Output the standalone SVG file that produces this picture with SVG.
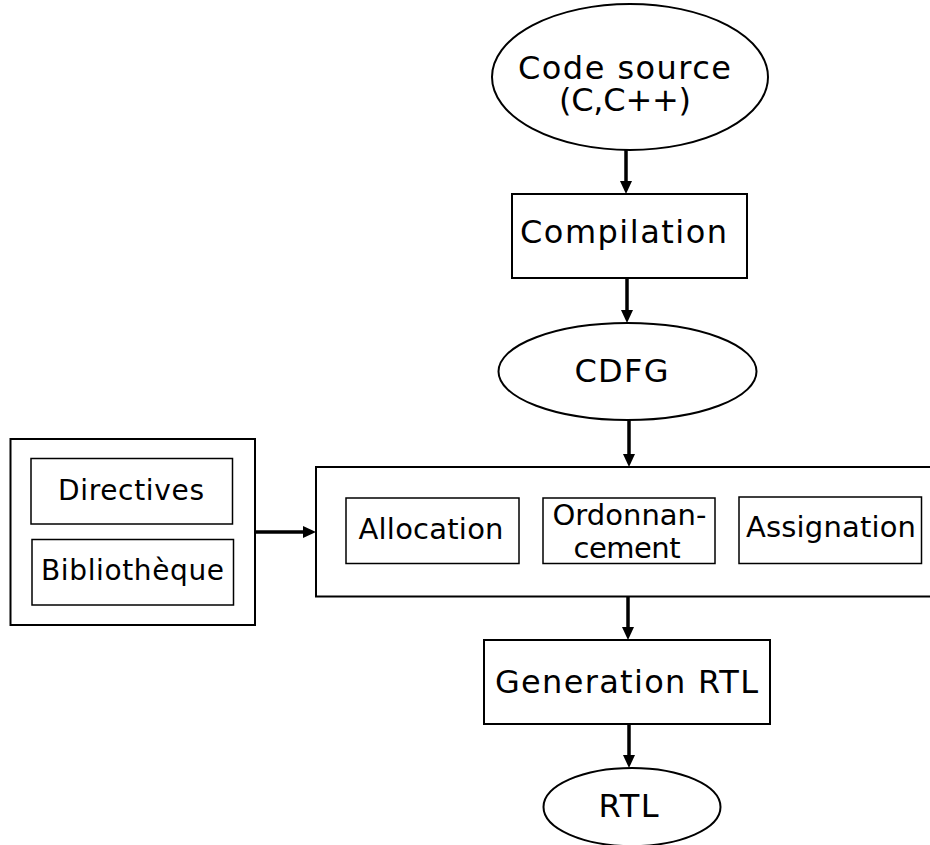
<svg xmlns="http://www.w3.org/2000/svg" width="930" height="845" viewBox="0 0 930 845">
<defs>
<style>
.shape{fill:#fff;stroke:#000;stroke-width:2}
.inner{fill:#fff;stroke:#000;stroke-width:1.5}
.lbl{font-family:"DejaVu Sans",sans-serif;fill:#000;font-size:32px}
.sm{font-size:29px}
.xs{font-size:28px}
.conn{stroke:#000;stroke-width:3.5;fill:none}
</style>
<marker id="ah" markerUnits="userSpaceOnUse" markerWidth="13" markerHeight="12" viewBox="0 0 13 12" refX="0" refY="6" orient="auto">
<path d="M0,0 L13,6 L0,12 z" fill="#000"/>
</marker>
</defs>
<rect width="930" height="845" fill="#fff"/>
<g id="connectors">
<line class="conn" x1="626" y1="150" x2="626" y2="181" marker-end="url(#ah)"/>
<line class="conn" x1="627" y1="278" x2="627" y2="310" marker-end="url(#ah)"/>
<line class="conn" x1="629" y1="420" x2="629" y2="454" marker-end="url(#ah)"/>
<line class="conn" x1="255" y1="532" x2="303" y2="532" marker-end="url(#ah)"/>
<line class="conn" x1="628" y1="597" x2="628" y2="627" marker-end="url(#ah)"/>
<line class="conn" x1="629" y1="724" x2="629" y2="755" marker-end="url(#ah)"/>
</g>
<g id="code-source">
<ellipse class="shape" cx="630" cy="77" rx="138" ry="73"/>
<text class="lbl" x="518" y="79" textLength="213" lengthAdjust="spacing">Code source</text>
<text class="lbl" x="559" y="111" textLength="132" lengthAdjust="spacing">(C,C++)</text>
</g>
<g id="compilation">
<rect class="shape" x="512" y="194" width="235" height="84"/>
<text class="lbl" x="520" y="243" textLength="207" lengthAdjust="spacing">Compilation</text>
</g>
<g id="cdfg">
<ellipse class="shape" cx="627.5" cy="371.5" rx="129" ry="48.5"/>
<text class="lbl" x="574.5" y="381.5" textLength="94" lengthAdjust="spacing">CDFG</text>
</g>
<g id="inputs">
<rect class="shape" x="10.5" y="439" width="244.5" height="186"/>
<g id="directives">
<rect class="inner" x="31" y="458.5" width="201.5" height="65.5"/>
<text class="lbl xs" x="58" y="500" textLength="146" lengthAdjust="spacing">Directives</text>
</g>
<g id="bibliotheque">
<rect class="inner" x="32" y="539.5" width="201.5" height="65.5"/>
<text class="lbl xs" x="41" y="580" textLength="183" lengthAdjust="spacing">Bibliothèque</text>
</g>
</g>
<g id="synthese">
<rect class="shape" x="316" y="467" width="640" height="129.5"/>
<g id="allocation">
<rect class="inner" x="346" y="498" width="173" height="65.5"/>
<text class="lbl sm" x="358.5" y="539" textLength="145" lengthAdjust="spacing">Allocation</text>
</g>
<g id="ordonnancement">
<rect class="inner" x="543" y="498" width="172" height="65.5"/>
<text class="lbl sm" x="552.5" y="525" textLength="154" lengthAdjust="spacing">Ordonnan-</text>
<text class="lbl sm" x="573.5" y="558" textLength="107" lengthAdjust="spacing">cement</text>
</g>
<g id="assignation">
<rect class="inner" x="739" y="497" width="182.5" height="66.5"/>
<text class="lbl sm" x="746" y="537" textLength="170" lengthAdjust="spacing">Assignation</text>
</g>
</g>
<g id="generation-rtl">
<rect class="shape" x="484" y="640" width="286" height="84"/>
<text class="lbl" x="495" y="693" textLength="263" lengthAdjust="spacing">Generation RTL</text>
</g>
<g id="rtl">
<ellipse class="shape" cx="632" cy="807" rx="88.5" ry="39"/>
<text class="lbl" x="598.5" y="816.5" textLength="60" lengthAdjust="spacing">RTL</text>
</g>
</svg>
